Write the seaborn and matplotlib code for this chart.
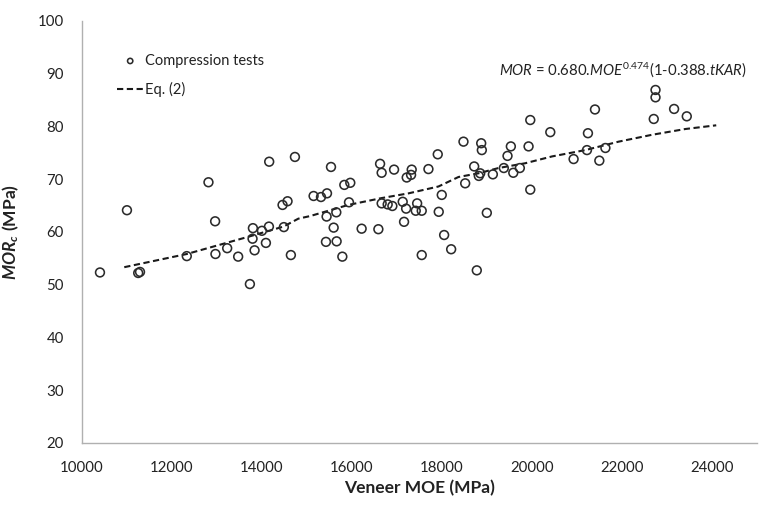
import matplotlib
matplotlib.use("Agg")
import matplotlib.pyplot as plt
import seaborn as sns
import pandas as pd

# ---- data ----
moe = [10400, 11000, 11250, 11290, 12330, 12812, 12960, 12967, 13228, 13472,
       13733, 13800, 13792, 13837, 14000, 14089, 14156, 14162, 14734, 14459,
       14570, 14488, 14644, 15536, 15149, 15313, 15447, 15832, 15965, 15936,
       15438, 15654, 15595, 15424, 15661, 15788, 16217, 16589, 16627, 16662,
       16938, 16662, 16796, 16900, 17130, 17330, 17316, 17219, 17206, 17451,
       17420, 17553, 17160, 17702, 17909, 17998, 17931, 17553, 18051, 18207,
       18481, 18519, 18719, 18875, 18889, 18822, 18853, 19134, 19000, 18777,
       19534, 19460, 19378, 19588, 19734, 19928, 19966, 19966, 20411, 20929,
       21248, 21226, 21636, 21404, 21501, 22711, 22750, 22750, 23163, 23445]
mor = [52.3, 64.1, 52.2, 52.4, 55.4, 69.4, 62.0, 55.8, 56.9, 55.3,
       50.1, 60.7, 58.7, 56.5, 60.2, 57.9, 61.0, 73.3, 74.2, 65.1,
       65.8, 60.9, 55.6, 72.3, 66.8, 66.6, 67.3, 68.9, 69.3, 65.6,
       62.9, 63.7, 60.8, 58.1, 58.2, 55.3, 60.6, 60.5, 72.9, 71.2,
       71.8, 65.4, 65.2, 64.9, 65.7, 71.8, 70.8, 70.3, 64.4, 65.4,
       64.0, 64.0, 61.9, 71.9, 74.7, 67.0, 63.8, 55.6, 59.4, 56.7,
       77.1, 69.2, 72.4, 76.8, 75.5, 70.6, 71.1, 70.9, 63.6, 52.7,
       76.2, 74.4, 72.1, 71.2, 72.1, 76.2, 81.2, 68.0, 78.9, 73.8,
       78.7, 75.5, 75.9, 83.2, 73.5, 81.4, 86.9, 85.5, 83.3, 81.9]

eq_moe = [10940, 12330, 13670, 14480, 14810, 15075, 15920, 16660, 17260, 17925,
          18370, 18815, 19260, 19850, 20450, 21190, 21930, 22670, 23415, 24100]
eq_mor = [53.3, 55.8, 59.0, 61.0, 62.5, 63.0, 65.1, 66.4, 67.3, 68.6,
          70.4, 71.1, 72.1, 73.0, 74.3, 75.5, 77.1, 78.4, 79.5, 80.2]

x_ticks = [10000, 12000, 14000, 16000, 18000, 20000, 22000, 24000]
y_ticks = [20, 30, 40, 50, 60, 70, 80, 90, 100]

pts = pd.DataFrame({"MOE": moe, "MOR": mor})
eq = pd.DataFrame({"MOE": eq_moe, "MOR": eq_mor})

sns.set_theme(style="white")
FONT = "Lato"
plt.rcParams["font.family"] = [FONT, "DejaVu Sans"]
plt.rcParams["mathtext.fontset"] = "custom"
plt.rcParams["mathtext.rm"] = FONT
plt.rcParams["mathtext.it"] = FONT + ":italic"
plt.rcParams["mathtext.bf"] = FONT + ":bold"
plt.rcParams["mathtext.bfit"] = FONT + ":italic:bold"

TXT = "#222222"
fig = plt.figure(figsize=(7.59, 5.09), dpi=100)
ax = fig.add_axes([0.108, 0.13, 0.889, 0.829])

sns.scatterplot(data=pts, x="MOE", y="MOR", ax=ax, marker="o", s=40,
                facecolor="none", edgecolor="#2b2b2b", linewidth=1.15,
                label="Compression tests", zorder=3)
sns.lineplot(data=eq, x="MOE", y="MOR", ax=ax, color="#1a1a1a",
             linewidth=1.5, linestyle=(0, (3.0, 1.7)), label="Eq. (2)", zorder=2)

ax.set_xlim(10000, 25000)
ax.set_ylim(20, 100)
ax.set_xticks(x_ticks)
ax.set_yticks(y_ticks)
ax.tick_params(axis="both", labelsize=10.8, labelcolor=TXT, length=4,
               width=0.8, direction="out", color="#b0b0b0")
ax.tick_params(axis="y", pad=9)
ax.tick_params(axis="x", pad=9)
for s in ["top", "right"]:
    ax.spines[s].set_visible(False)
for s in ["left", "bottom"]:
    ax.spines[s].set_color("#b0b0b0")
    ax.spines[s].set_linewidth(1.0)

ax.set_xlabel("Veneer MOE (MPa)", fontsize=12.5, fontweight="bold",
              color=TXT, labelpad=4)
ax.set_ylabel(r"$\mathbfit{MOR}_{\mathbfit{c}}$ (MPa)", fontsize=12.5,
              fontweight="bold", color=TXT, labelpad=12)

ax.text(0.985, 0.884,
        r"$\mathit{MOR}$ = 0.680.$\mathit{MOE}^{0.474}$(1-0.388.$\mathit{tKAR}$)",
        transform=ax.transAxes, ha="right", va="center", fontsize=10.7,
        color=TXT)

leg = ax.legend(loc="upper left", bbox_to_anchor=(0.052, 0.922), frameon=False,
                fontsize=10.5, handlelength=1.8, handletextpad=0.15,
                labelspacing=0.95, markerscale=0.6, borderpad=0,
                borderaxespad=0)
for t in leg.get_texts():
    t.set_color(TXT)

fig.savefig("out.png", dpi=100)
